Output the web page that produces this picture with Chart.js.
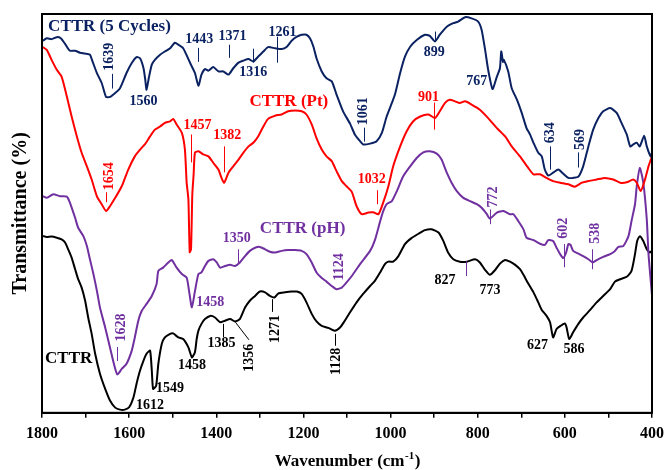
<!DOCTYPE html>
<html>
<head>
<meta charset="utf-8">
<script src="https://cdn.jsdelivr.net/npm/chart.js@4.4.1/dist/chart.umd.min.js"></script>
<style>
  html, body { margin: 0; padding: 0; background: #fff; }
  #wrap { width: 665px; height: 470px; }
</style>
</head>
<body>
<div id="wrap"><canvas id="ftir" width="665" height="470"></canvas></div>
<script>
// FTIR spectra: wavenumber (cm-1) and stacked transmittance (%) per sample
const wnCycles = [1798,1789,1778,1766,1757,1747,1736,1724,1713,1697,1690,1684,1674,1663,1653,1644,1632,1621,1606,1594,1583,1575,1567,1563,1560,1555,1548,1541,1529,1518,1506,1495,1487,1476,1460,1449,1441,1434,1426,1418,1407,1395,1384,1372,1361,1349,1338,1326,1315,1304,1292,1281,1265,1250,1238,1227,1215,1204,1193,1185,1177,1170,1158,1147,1135,1124,1109,1093,1082,1070,1063,1047,1032,1020,1009,997,990,978,967,955,940,921,910,898,887,871,856,845,829,814,799,791,783,776,766,756,749,746,742,740,730,722,710,699,688,680,672,661,653,646,638,627,615,604,592,581,569,558,546,535,523,512,496,481,470,458,450,443,435,428,418,412,403,400];
const tCycles = [93.3,93.9,93.7,94.2,93.9,92.5,90.8,90.8,90.3,90.0,89.8,88.1,85.2,82.7,79.2,79.2,80.2,81.4,85.2,87.7,89.2,88.9,86.4,83.5,81.0,83.9,87.3,88.5,89.8,90.6,91.4,92.8,92.3,91.4,87.7,85.2,82.0,84.8,86.2,85.8,86.7,85.6,85.6,84.8,86.4,87.8,88.3,88.7,88.1,89.3,90.6,91.7,91.4,91.2,91.8,93.3,94.3,94.8,94.8,93.9,91.8,88.9,85.6,83.9,83.1,79.8,75.6,72.5,69.8,68.1,67.3,67.5,68.1,70.2,74.3,77.7,79.8,85.2,89.3,91.8,93.5,94.8,94.5,93.1,94.8,96.8,97.7,98.1,99.2,98.9,98.1,96.0,91.0,86.0,81.2,84.3,86.4,90.6,88.0,88.5,85.6,81.4,78.5,75.2,71.4,69.8,67.7,65.2,64.3,61.0,59.5,60.2,61.0,60.0,58.9,58.9,59.2,61.8,66.8,71.0,73.9,75.6,76.4,75.2,72.7,69.8,66.8,67.3,67.7,66.8,69.5,66.8,64.3,65.3];

const wnPt = [1798,1789,1778,1766,1755,1743,1732,1720,1709,1697,1686,1674,1663,1653,1644,1632,1617,1602,1587,1575,1564,1552,1541,1529,1518,1506,1499,1491,1479,1472,1468,1464,1461,1458,1455,1452,1449,1441,1430,1418,1407,1395,1388,1382,1372,1361,1349,1338,1326,1315,1304,1292,1281,1265,1250,1235,1219,1204,1193,1181,1170,1158,1147,1135,1124,1112,1101,1089,1078,1066,1051,1040,1028,1017,1005,994,978,963,948,932,913,898,887,875,864,852,841,829,814,795,776,756,737,722,703,684,672,657,642,627,611,592,577,561,546,527,508,489,473,458,443,435,426,416,408,400];
const tPt = [91.7,91.0,88.5,86.0,84.3,79.3,74.3,69.3,65.2,61.8,58.5,54.3,52.3,50.6,51.8,53.9,56.8,61.0,64.3,66.0,67.3,69.3,71.0,71.8,72.7,73.1,73.7,72.3,70.2,66.0,57.7,53.5,40.3,41.0,54.8,59.8,65.2,65.6,64.8,64.3,62.7,61.0,58.9,57.7,60.2,61.8,63.5,65.2,66.8,67.7,69.3,71.8,73.7,74.5,74.8,75.6,75.8,75.6,74.8,72.3,68.9,66.0,64.3,63.1,60.6,58.1,56.8,55.4,51.8,49.8,50.2,50.3,49.8,52.7,56.8,61.8,66.8,70.6,73.1,74.3,74.8,73.9,75.6,77.7,78.5,78.1,77.7,78.1,77.3,76.0,73.9,71.4,69.3,66.8,64.3,61.4,59.8,59.8,58.9,58.1,57.7,57.3,56.7,57.7,58.1,58.5,58.9,58.5,57.7,57.8,58.5,57.7,55.6,58.5,61.8,64.3];

const wnPH = [1798,1789,1774,1759,1743,1736,1728,1724,1717,1705,1697,1690,1682,1674,1667,1655,1644,1635,1627,1617,1606,1594,1587,1579,1571,1560,1548,1537,1533,1522,1510,1502,1491,1479,1468,1462,1456,1449,1441,1434,1426,1418,1407,1399,1391,1380,1368,1357,1346,1334,1323,1311,1300,1288,1277,1265,1250,1235,1219,1204,1193,1181,1170,1158,1147,1135,1124,1112,1101,1089,1070,1047,1036,1024,1017,1009,997,986,971,955,940,925,910,894,883,871,860,848,833,818,802,791,779,772,756,741,726,718,707,695,688,672,657,646,638,627,619,611,604,597,592,587,581,569,558,546,536,527,512,496,485,477,466,454,447,439,435,428,420,412,408,400];
const tPH = [54.3,53.9,54.8,54.3,54.2,52.7,50.2,48.9,46.4,44.3,41.8,38.5,34.8,30.6,26.4,21.4,16.4,12.3,9.6,11.0,12.3,15.6,18.9,23.1,25.6,27.3,29.3,32.3,35.6,36.4,37.7,38.3,36.4,34.8,33.9,30.2,26.4,30.5,34.8,35.2,36.8,38.1,38.5,37.7,36.4,36.8,37.1,36.8,37.7,39.3,40.6,41.4,41.6,41.0,40.4,40.2,40.6,40.8,40.8,40.6,39.8,37.7,35.2,33.8,32.9,31.8,31.0,31.4,32.7,34.3,37.3,40.6,43.3,48.0,50.5,52.3,53.1,55.5,59.3,61.8,63.9,65.3,65.6,65.0,63.5,60.2,57.7,55.6,53.9,53.1,52.3,51.4,49.8,48.7,50.2,50.6,49.8,49.8,48.1,46.0,43.9,43.3,42.4,42.1,43.3,43.1,41.4,39.8,38.8,40.2,42.3,42.1,40.6,39.9,39.3,38.5,37.7,38.3,39.1,39.8,40.6,41.6,41.8,44.3,48.1,52.3,56.8,61.4,57.7,48.5,39.8,29.5];

const wnRaw = [1798,1789,1778,1766,1755,1747,1740,1732,1724,1717,1709,1701,1694,1686,1678,1667,1655,1644,1632,1621,1610,1600,1590,1583,1575,1567,1560,1552,1548,1545,1538,1533,1525,1518,1506,1499,1487,1476,1464,1456,1449,1445,1441,1434,1426,1414,1403,1391,1380,1368,1357,1346,1334,1323,1311,1300,1288,1277,1267,1258,1242,1227,1215,1204,1193,1181,1170,1158,1143,1128,1116,1105,1093,1078,1063,1047,1036,1024,1013,1005,994,982,967,952,936,921,906,890,879,868,856,841,825,806,795,783,772,760,749,737,726,714,703,695,684,672,661,653,642,634,627,619,610,600,596,590,581,569,558,542,527,512,496,485,473,458,447,439,434,428,420,412,405,400];
const tRaw = [44.3,44.1,44.2,43.9,43.5,42.7,41.0,38.9,36.0,33.5,31.4,28.1,23.9,19.8,14.8,9.8,6.0,3.1,1.3,0.8,0.8,1.4,3.9,7.3,10.6,13.1,14.8,15.6,10.6,6.0,6.8,12.3,17.3,18.9,19.8,19.9,18.9,18.5,16.4,13.9,15.2,18.5,20.6,22.3,23.5,24.3,23.9,22.7,23.1,23.5,22.9,23.5,26.4,28.1,29.3,30.4,30.2,29.3,28.9,29.9,30.2,30.4,30.4,29.8,27.7,24.8,22.9,21.8,21.3,20.6,21.4,23.1,25.2,27.7,29.8,31.8,33.1,35.2,37.3,37.9,37.9,39.3,42.3,43.8,44.9,45.8,46.0,45.2,43.1,40.2,38.5,37.9,37.9,38.5,37.7,35.8,34.6,35.8,37.4,38.3,37.9,37.1,36.0,34.6,32.4,30.2,27.7,25.8,24.3,22.7,18.9,21.0,21.8,22.4,21.4,18.5,20.2,22.3,23.9,25.8,27.7,29.3,31.0,32.9,33.5,34.1,35.6,39.8,43.1,44.3,43.1,41.0,40.2,40.6];

// Axis range and tick labels
const wnMin = 400, wnMax = 1800;
const xTickLabels = ['1800','1600','1400','1200','1000','800','600','400'];

// Peak assignments: label text, label anchor (wavenumber, %T), optional marker line span in %T
const notesCycles = [
  { t: '1639', x: 1645, y: 89.3, rot: true, tick: [85.0, 81.3] },
  { t: '1560', x: 1567, y: 78.1 },
  { t: '1443', x: 1439, y: 93.7, tick: [91.5, 88.0] },
  { t: '1371', x: 1363, y: 94.5, tick: [92.3, 89.0] },
  { t: '1316', x: 1315, y: 85.3, tick: [91.3, 87.8] },
  { t: '1261', x: 1248, y: 95.4, tick: [94.3, 87.8] },
  { t: '899',  x: 900,  y: 90.3, tick: [95.6, 93.1] },
  { t: '767',  x: 802,  y: 83.1 },
  { t: '1061', x: 1063, y: 75.6, rot: true, tick: [71.5, 68.0] },
  { t: '634',  x: 634,  y: 70.2, rot: true, tick: [66.8, 61.0] },
  { t: '569',  x: 564,  y: 68.5, rot: true, tick: [65.3, 61.5] }
];
const notesPt = [
  { t: '1654', x: 1645, y: 59.3, rot: true, tick: [55.3, 52.8] },
  { t: '1457', x: 1443, y: 72.0, tick: [69.8, 62.8] },
  { t: '1382', x: 1375, y: 69.5, tick: [66.8, 60.3] },
  { t: '1032', x: 1043, y: 58.5, tick: [55.8, 52.3] },
  { t: '901',  x: 913,  y: 79.1, tick: [77.8, 71.0] }
];
const notesPH = [
  { t: '1628', x: 1617, y: 21.4, rot: true, tick: [16.5, 13.0] },
  { t: '1458', x: 1414, y: 27.6 },
  { t: '1350', x: 1353, y: 43.8, tick: [41.0, 37.3] },
  { t: '1124', x: 1117, y: 36.6, rot: true },
  { t: '772',  x: 764,  y: 54.1, rot: true, tick: [51.0, 47.3] },
  { t: '602',  x: 604,  y: 46.3, rot: true, tick: [42.3, 36.5] },
  { t: '538',  x: 531,  y: 45.0, rot: true, tick: [41.0, 36.0] },
  { t: '',     at: 827, tick: [38.0, 34.3] }
];
const notesRaw = [
  { t: '1612', x: 1552, y: 1.8 },
  { t: '1549', x: 1506, y: 6.0 },
  { t: '1458', x: 1456, y: 11.8 },
  { t: '1385', x: 1388, y: 17.4, tick: [22.3, 19.0] },
  { t: '1356', x: 1323, y: 13.8, rot: true, lead: [1356, 22.7, 1325, 18.3] },
  { t: '1271', x: 1265, y: 21.0, rot: true, tick: [28.5, 25.3] },
  { t: '1128', x: 1124, y: 12.9, rot: true, tick: [19.8, 16.8] },
  { t: '827',  x: 875,  y: 33.3 },
  { t: '773',  x: 772,  y: 30.8 },
  { t: '627',  x: 663,  y: 16.8 },
  { t: '586',  x: 579,  y: 15.8 }
];

const NAVY = '#0b2262', RED = '#ff0000', PURPLE = '#7030a0', BLACK = '#000000';
const SERIF = '"Liberation Serif", "Times New Roman", serif';

const series = [
  { name: 'CTTR (5 Cycles)', wn: wnCycles, t: tCycles, color: NAVY,   notes: notesCycles, tag: [1786, 96.9] },
  { name: 'CTTR (Pt)',       wn: wnPt,     t: tPt,     color: RED,    notes: notesPt,     tag: [1324, 78.1] },
  { name: 'CTTR (pH)',       wn: wnPH,     t: tPH,     color: PURPLE, notes: notesPH,     tag: [1300, 46.3] },
  { name: 'CTTR',            wn: wnRaw,    t: tRaw,    color: BLACK,  notes: notesRaw,    tag: [1793, 13.5] }
];

// Peak labels, marker lines and sample names drawn in data coordinates
const peakNotes = {
  id: 'peakNotes',
  afterDatasetsDraw(chart) {
    const { ctx, scales: { x, y } } = chart;
    ctx.save();
    series.forEach(s => {
      ctx.fillStyle = s.color;
      ctx.strokeStyle = s.color;
      ctx.lineWidth = 1;
      s.notes.forEach(n => {
        const at = n.at !== undefined ? n.at : parseFloat(n.t);
        if (n.tick) {
          const px = Math.round(x.getPixelForValue(at)) + 0.5;
          ctx.beginPath();
          ctx.moveTo(px, y.getPixelForValue(n.tick[0]));
          ctx.lineTo(px, y.getPixelForValue(n.tick[1]));
          ctx.stroke();
        }
        if (n.lead) {
          ctx.beginPath();
          ctx.moveTo(x.getPixelForValue(n.lead[0]), y.getPixelForValue(n.lead[1]));
          ctx.lineTo(x.getPixelForValue(n.lead[2]), y.getPixelForValue(n.lead[3]));
          ctx.stroke();
        }
        if (n.t) {
          ctx.save();
          ctx.translate(x.getPixelForValue(n.x), y.getPixelForValue(n.y));
          if (n.rot) ctx.rotate(-Math.PI / 2);
          ctx.font = 'bold 14px ' + SERIF;
          ctx.textAlign = 'center';
          ctx.textBaseline = 'middle';
          ctx.fillText(n.t, 0, 0);
          ctx.restore();
        }
      });
      ctx.font = 'bold 17px ' + SERIF;
      ctx.textAlign = 'left';
      ctx.textBaseline = 'middle';
      ctx.fillText(s.name, x.getPixelForValue(s.tag[0]), y.getPixelForValue(s.tag[1]));
    });
    ctx.restore();
  },
  afterDraw(chart) {
    const { ctx, chartArea: a } = chart;
    ctx.save();
    // plot frame
    ctx.strokeStyle = '#000';
    ctx.lineWidth = 2;
    ctx.strokeRect(a.left, a.top, a.right - a.left, a.bottom - a.top);
    ctx.fillStyle = '#000';
    // y-axis title
    ctx.save();
    ctx.translate(21, (a.top + a.bottom) / 2);
    ctx.rotate(-Math.PI / 2);
    ctx.font = 'bold 20px ' + SERIF;
    ctx.textAlign = 'center';
    ctx.textBaseline = 'middle';
    ctx.fillText('Transmittance (%)', 0, 0);
    ctx.restore();
    // x-axis title with superscript
    const main = 'Wavenumber (cm', sup = '-1', end = ')';
    ctx.textBaseline = 'alphabetic';
    ctx.textAlign = 'left';
    ctx.font = 'bold 17px ' + SERIF;
    const w1 = ctx.measureText(main).width, w3 = ctx.measureText(end).width;
    ctx.font = 'bold 11px ' + SERIF;
    const w2 = ctx.measureText(sup).width;
    const sx = (a.left + a.right) / 2 - (w1 + w2 + w3) / 2;
    const base = 466;
    ctx.font = 'bold 17px ' + SERIF;
    ctx.fillText(main, sx, base);
    ctx.font = 'bold 11px ' + SERIF;
    ctx.fillText(sup, sx + w1 + 0.5, base - 7);
    ctx.font = 'bold 17px ' + SERIF;
    ctx.fillText(end, sx + w1 + w2 + 1, base);
    ctx.restore();
  }
};

new Chart(document.getElementById('ftir'), {
  type: 'line',
  data: {
    datasets: series.map(s => ({
      label: s.name,
      data: s.wn.map((w, i) => ({ x: w, y: s.t[i] })),
      borderColor: s.color,
      borderWidth: 2,
      pointRadius: 0,
      fill: false,
      tension: 0.2
    }))
  },
  options: {
    responsive: false,
    animation: false,
    devicePixelRatio: 1,
    layout: { padding: { left: 42, right: 13, top: 14, bottom: 21 } },
    plugins: { legend: { display: false }, tooltip: { enabled: false } },
    scales: {
      x: {
        type: 'linear',
        reverse: true,
        min: wnMin,
        max: wnMax,
        afterFit: scale => { scale.paddingLeft = 0; scale.paddingRight = 0; },
        grid: { display: true, drawOnChartArea: false, drawTicks: true, tickLength: 5, color: '#000', lineWidth: 1.5 },
        border: { display: true, color: '#000', width: 2 },
        ticks: {
          stepSize: 100,
          autoSkip: false,
          maxRotation: 0,
          padding: 6,
          color: '#000',
          font: { family: SERIF, size: 16, weight: 'bold' },
          callback: v => xTickLabels.includes(String(v)) ? String(v) : ''
        }
      },
      y: { display: false, min: 0, max: 100 }
    }
  },
  plugins: [peakNotes]
});
</script>
</body>
</html>
